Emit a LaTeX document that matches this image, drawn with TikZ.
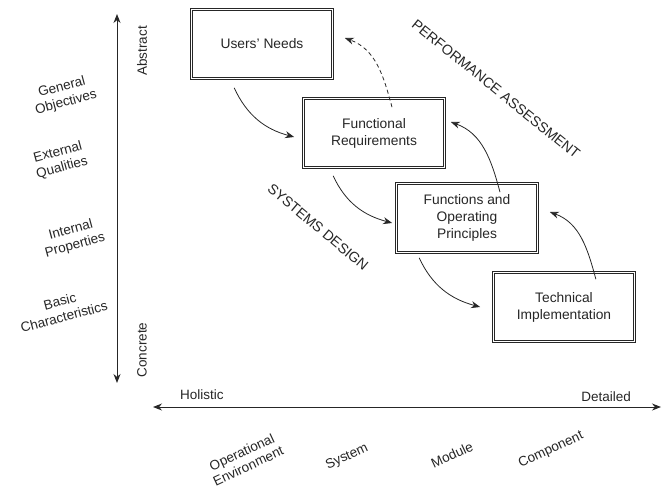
\documentclass[tikz,border=0pt]{standalone}
\usepackage{fontspec}
\setmainfont{Liberation Sans}
\usetikzlibrary{arrows.meta,calc}
\begin{document}
\begin{tikzpicture}[x=1pt,y=1pt,
  box/.style={draw=black!85, double, double distance=1.6pt, line width=0.7pt,
    minimum width=141pt, minimum height=69pt, align=center, inner sep=2pt,
    font=\fontsize{13.8}{17}\selectfont, text=black!85},
  flow/.style={draw=black!85, line width=0.8pt, -{Stealth[length=9pt,width=7pt]}},
  axis/.style={draw=black!85, line width=1pt, {Stealth[length=9pt,width=7pt]}-{Stealth[length=9pt,width=7pt]}},
  lbl/.style={font=\fontsize{13.5}{16}\selectfont, text=black!85, align=center, inner sep=0pt},
  band/.style={font=\fontsize{14.2}{16}\selectfont, text=black!85, inner sep=0pt}]
\useasboundingbox (0,0) rectangle (663,-490);

% stages
\node[box] (un) at (262,-44) {Users' Needs};
\node[box] (fr) at (374,-133) {Functional\\Requirements};
\node[box] (fo) at (467,-218) {Functions and\\Operating\\Principles};
\node[box] (ti) at (564,-307) {Technical\\Implementation};

% design steps (downward)
\coordinate (d1s) at ([shift={(43,-9)}]un.south west);
\coordinate (d1e) at ([shift={(-9,-4)}]fr.west);
\coordinate (d2s) at ([shift={(30,-8)}]fr.south west);
\coordinate (d2e) at ([shift={(-4,-5)}]fo.west);
\coordinate (d3s) at ([shift={(23,-5)}]fo.south west);
\coordinate (d3e) at ([shift={(-13,0)}]ti.west);
\draw[flow] (d1s) to[out=-65,in=165] (d1e);
\draw[flow] (d2s) to[out=-65,in=165] (d2e);
\draw[flow] (d3s) to[out=-65,in=165] (d3e);

% assessment steps (upward)
\coordinate (a1s) at ([shift={(-39,-7)}]ti.north east);
\coordinate (a1e) at ([shift={(12,6)}]fo.east);
\coordinate (a2s) at ([shift={(33,-9)}]fo.north);
\coordinate (a2e) at ([shift={(6,11)}]fr.east);
\coordinate (a3s) at ([shift={(18,-9)}]fr.north);
\coordinate (a3e) at ([shift={(12,6)}]un.east);
\draw[flow] (a1s) to[out=105,in=-20] (a1e);
\draw[flow] (a2s) to[out=105,in=-20] (a2e);
\draw[flow, dashed, dash pattern=on 4pt off 3pt] (a3s) to[out=105,in=-20] (a3e);

% process bands
\node[band, rotate=-39] (pa) at (496,-89) {PERFORMANCE ASSESSMENT};
\node[band, rotate=-40] (sd) at (318,-227) {SYSTEMS DESIGN};

% abstraction axis
\coordinate (vt) at (117,-14);
\coordinate (vb) at (117,-383);
\draw[axis] (vb) -- (vt);
\node[lbl, rotate=90] (abs) at (142,-51) {Abstract};
\node[lbl, rotate=90] (con) at (142,-350) {Concrete};
\node[lbl, rotate=15] (go) at (64,-95) {General\\Objectives};
\node[lbl, rotate=15] (eq) at (60,-160) {External\\Qualities};
\node[lbl, rotate=15] (ip) at (73,-238) {Internal\\Properties};
\node[lbl, rotate=15] (bc) at (62,-309) {Basic\\Characteristics};

% decomposition axis
\coordinate (hl) at (153,-407);
\coordinate (hr) at (661,-407);
\draw[axis] (hl) -- (hr);
\node[lbl, anchor=west] (hol) at (180,-395) {Holistic};
\node[lbl, anchor=east] (det) at (631,-397) {Detailed};
\node[lbl, rotate=25, font=\fontsize{13.5}{15}\selectfont] (oe) at (245,-459) {Operational\\Environment};
\node[lbl, rotate=25] (sys) at (347,-457) {System};
\node[lbl, rotate=25] (mod) at (452,-455) {Module};
\node[lbl, rotate=25] (cmp) at (551,-450) {Component};
\end{tikzpicture}
\end{document}
